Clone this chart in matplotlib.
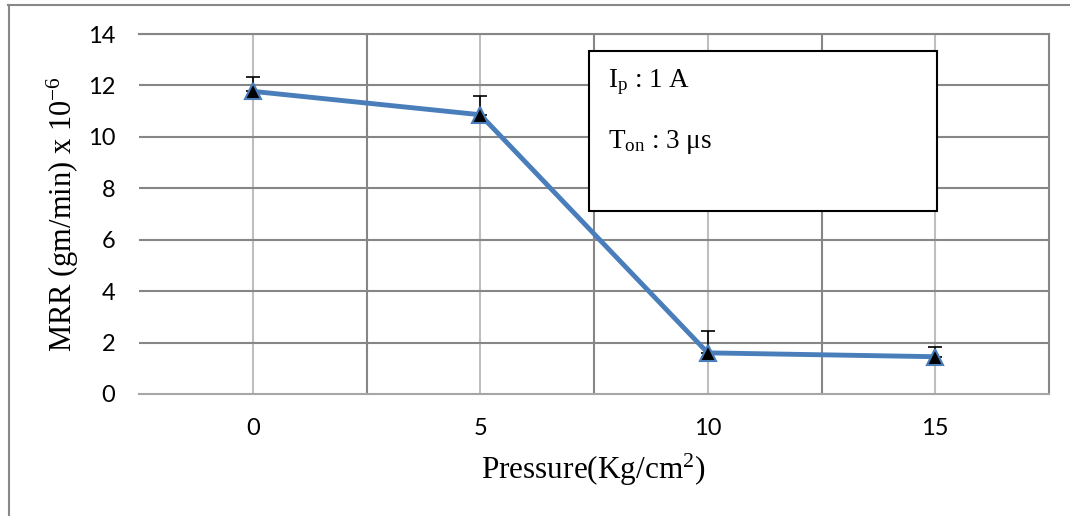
import matplotlib.pyplot as plt
from matplotlib.lines import Line2D
from matplotlib.patches import Rectangle

plt.rcParams['mathtext.fontset'] = 'custom'
plt.rcParams['mathtext.rm'] = 'Liberation Serif'
plt.rcParams['mathtext.it'] = 'Liberation Serif:italic'

# data
pressure = ['0', '5', '10', '15']
mrr = [11.77, 10.86, 1.60, 1.45]
err_up = [0.55, 0.71, 0.85, 0.38]

blue = '#4A7EBB'
grid_dark = '#868686'
grid_light = '#BFBFBF'

fig = plt.figure(figsize=(10.7, 5.16), dpi=100)
ax = fig.add_axes([139 / 1070, 1 - 394 / 516, 910 / 1070, 360 / 516])

x = list(range(len(pressure)))
ax.errorbar(x, mrr, yerr=[[0] * len(x), err_up], fmt='none', ecolor='black',
            elinewidth=1.2, capsize=5, capthick=1.2, zorder=3)
ax.plot(x, mrr, color=blue, lw=3.5, marker='^', markersize=11,
        markerfacecolor='black', markeredgecolor=blue, markeredgewidth=1.5, zorder=4)

ax.set_xlim(-0.5, len(x) - 0.5)
ax.set_ylim(0, 14)
ax.set_yticks(range(0, 15, 2))
ax.set_xticks(x)
ax.set_xticklabels(pressure)

# gridlines: centres light, category boundaries dark
for xi in x:
    ax.axvline(xi, color=grid_light, lw=1.5, zorder=1)
for xb in [i + 0.5 for i in x[:-1]]:
    ax.axvline(xb, color=grid_dark, lw=1.5, zorder=1)
for yv in range(2, 15, 2):
    ax.axhline(yv, color=grid_dark, lw=1.5, zorder=1)

for side in ['top', 'right', 'bottom', 'left']:
    ax.spines[side].set_color(grid_dark)
    ax.spines[side].set_linewidth(1.5)
ax.spines['bottom'].set_color('#A6A6A6')
ax.spines['left'].set_visible(False)

ax.tick_params(axis='both', which='both', length=0, labelsize=17, pad=17)
for lbl in ax.get_xticklabels() + ax.get_yticklabels():
    lbl.set_family('Lato')

ax.set_xlabel(r'Pressure(Kg/cm$^{2}$)', family='Liberation Serif', fontsize=22.5)
ax.xaxis.set_label_coords(0.499, -0.16)
ax.set_ylabel(r'MRR (gm/min) x 10$^{-6}$', family='Liberation Serif', fontsize=22)
ax.yaxis.set_label_coords(-0.064, 0.5)

# annotation box
ax.add_patch(Rectangle((0.4945, 0.509), 0.3825, 0.444, transform=ax.transAxes,
                       facecolor='white', edgecolor='black', lw=1.5, zorder=5))
ax.text(0.515, 0.853, r'I$_{\mathrm{p}}$ : 1 A', transform=ax.transAxes,
        family='Liberation Serif', fontsize=19.5, va='baseline', zorder=6)
ax.text(0.515, 0.684, r'T$_{\mathrm{on}}$ : 3 μs', transform=ax.transAxes,
        family='Liberation Serif', fontsize=19.5, va='baseline', zorder=6)

# outer chart frame (top and left only visible)
fig.add_artist(Line2D([8 / 1070, 1], [1 - 5 / 516, 1 - 5 / 516], color='#888888', lw=1.5))
fig.add_artist(Line2D([9 / 1070, 9 / 1070], [0, 1 - 5 / 516], color='#888888', lw=1.5))

fig.savefig('out.png', dpi=100, facecolor='white')
